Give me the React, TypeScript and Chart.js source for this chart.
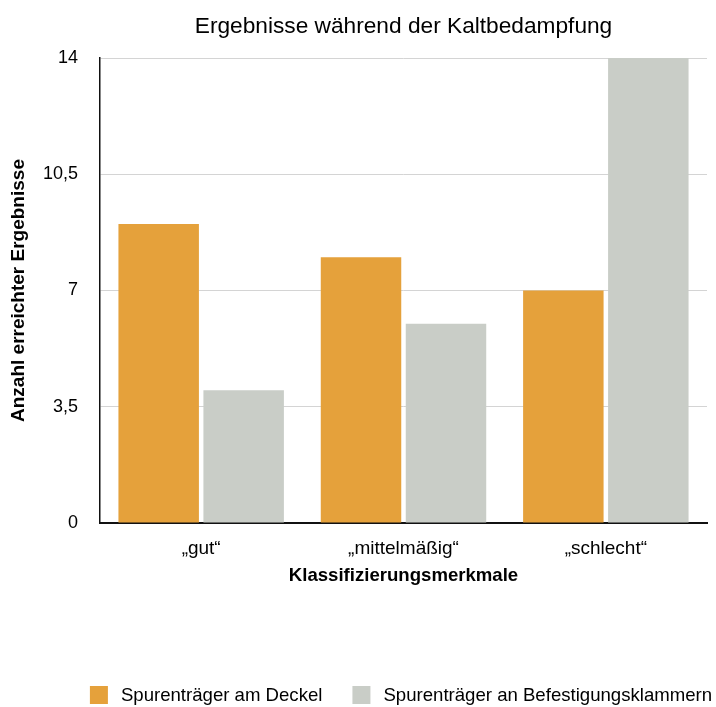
import React, { useEffect, useRef } from 'react';
import { Chart, registerables } from 'chart.js';

Chart.register(...registerables);

const categories = ['„gut“', '„mittelmäßig“', '„schlecht“'];
const deckelValues = [9, 8, 7];
const klammernValues = [4, 6, 14];
const seriesLabels = ['Spurenträger am Deckel', 'Spurenträger an Befestigungsklammern'];
const seriesColors = ['#E5A13B', '#C9CDC7'];
const yTickValues = [0, 3.5, 7, 10.5, 14];
const yTickLabels = ['0', '3,5', '7', '10,5', '14'];
const chartTitle = 'Ergebnisse während der Kaltbedampfung';
const xAxisTitle = 'Klassifizierungsmerkmale';
const yAxisTitle = 'Anzahl erreichter Ergebnisse';

const FONT = '"Liberation Sans", Arial, Helvetica, sans-serif';

const legendPlugin = {
  id: 'customLegend',
  afterDraw(chart: any) {
    const ctx = chart.ctx;
    ctx.save();
    ctx.font = `18.6px ${FONT}`;
    const box = 18;
    const gapText = 13;
    const gapItem = 30;
    const items = chart.data.datasets.map((ds: any) => ({
      text: ds.label,
      color: ds.backgroundColor,
      w: ctx.measureText(ds.label).width,
    }));
    const total =
      items.reduce((s: number, it: any) => s + box + gapText + it.w, 0) + gapItem * (items.length - 1);
    let x = 401 - total / 2;
    const cy = chart.height - 12;
    ctx.textBaseline = 'middle';
    ctx.textAlign = 'left';
    for (const it of items) {
      ctx.fillStyle = it.color;
      ctx.fillRect(x, cy - box / 2, box, box);
      x += box + gapText;
      ctx.fillStyle = '#000';
      ctx.fillText(it.text, x, cy + 1);
      x += it.w + gapItem;
    }
    ctx.restore();
  },
};

export default function App() {
  const ref = useRef<HTMLCanvasElement | null>(null);
  useEffect(() => {
    if (!ref.current) return;
    const chart = new Chart(ref.current, {
      type: 'bar',
      data: {
        labels: categories,
        datasets: [
          { label: seriesLabels[0], data: deckelValues, backgroundColor: seriesColors[0], borderWidth: 0 },
          { label: seriesLabels[1], data: klammernValues, backgroundColor: seriesColors[1], borderWidth: 0 },
        ],
      },
      options: {
        responsive: false,
        animation: false,
        layout: { padding: { left: 0, right: 9, top: 0, bottom: 118 } },
        datasets: {
          bar: { categoryPercentage: 0.84, barPercentage: 0.947 },
        },
        plugins: {
          legend: { display: false },
          tooltip: { enabled: false },
          title: {
            display: true,
            text: chartTitle,
            fullSize: false,
            color: '#000',
            font: { family: FONT, size: 22.7, weight: 'normal' },
            padding: { top: 13, bottom: 17.8 },
          },
        },
        scales: {
          x: {
            afterFit: (scale: any) => {
              scale.height = 66;
            },
            grid: { display: false, drawTicks: false },
            border: { display: true, color: '#111', width: 2 },
            ticks: { color: '#000', padding: 14, font: { family: FONT, size: 19 } },
            title: {
              display: true,
              text: xAxisTitle,
              color: '#000',
              font: { family: FONT, size: 18.6, weight: 'bold' },
              padding: { top: 1, bottom: 2 },
            },
          },
          y: {
            min: 0,
            max: 14,
            afterFit: (scale: any) => {
              scale.width = 100;
            },
            afterBuildTicks: (scale: any) => {
              scale.ticks = yTickValues.map((v) => ({ value: v }));
            },
            grid: { color: '#D4D4D4', lineWidth: 1, drawTicks: false },
            border: { display: true, color: '#111', width: 1.5 },
            ticks: {
              color: '#000',
              padding: 22,
              font: { family: FONT, size: 18 },
              callback: (_v: any, i: number) => yTickLabels[i],
            },
            title: {
              display: true,
              text: yAxisTitle,
              color: '#000',
              font: { family: FONT, size: 19, weight: 'bold' },
              padding: { top: 7, bottom: 14 },
            },
          },
        },
      },
      plugins: [legendPlugin],
    });
    return () => chart.destroy();
  }, []);
  return (
    <div style={{ position: 'fixed', left: 0, top: 0, width: 716, height: 707, background: '#fff' }}>
      <canvas ref={ref} width={716} height={707} style={{ display: 'block' }} />
    </div>
  );
}
